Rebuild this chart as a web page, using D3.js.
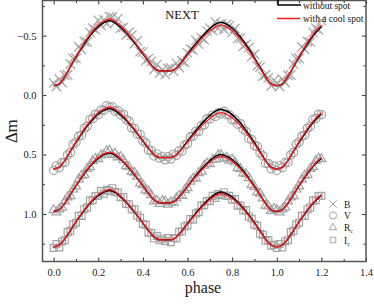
<!DOCTYPE html>
<html>
<head>
<meta charset="utf-8">
<script src="https://cdn.jsdelivr.net/npm/d3@7"></script>
<style>
  body { margin: 0; background: #fff; }
  svg { display: block; font-family: "Liberation Serif", "Times New Roman", serif; }
</style>
</head>
<body>
<svg id="chart" width="374" height="304"></svg>
<script>
// model curves, phase 0 .. 0.975 step 0.025 (folded again for 1.0 .. 1.2)
const bNoSpot  = [-0.078,-0.094,-0.155,-0.237,-0.319,-0.395,-0.466,-0.527,-0.576,-0.609,-0.625,-0.608,-0.570,-0.524,-0.469,-0.410,-0.347,-0.284,-0.229,-0.204,-0.204,-0.204,-0.228,-0.282,-0.343,-0.404,-0.461,-0.514,-0.559,-0.596,-0.612,-0.596,-0.564,-0.516,-0.457,-0.388,-0.313,-0.233,-0.153,-0.094];
const bSpot    = [-0.078,-0.095,-0.157,-0.241,-0.325,-0.404,-0.477,-0.539,-0.589,-0.623,-0.640,-0.623,-0.583,-0.535,-0.479,-0.418,-0.352,-0.287,-0.230,-0.204,-0.204,-0.204,-0.227,-0.277,-0.335,-0.393,-0.447,-0.497,-0.539,-0.574,-0.589,-0.574,-0.543,-0.497,-0.441,-0.374,-0.303,-0.226,-0.150,-0.093];
const vNoSpot  = [0.622,0.607,0.551,0.474,0.398,0.327,0.261,0.205,0.159,0.128,0.113,0.130,0.167,0.212,0.266,0.324,0.386,0.448,0.501,0.526,0.526,0.526,0.502,0.449,0.388,0.327,0.270,0.217,0.172,0.135,0.119,0.134,0.164,0.210,0.265,0.330,0.401,0.476,0.552,0.607];
const vSpot    = [0.622,0.606,0.549,0.471,0.392,0.319,0.251,0.194,0.147,0.116,0.100,0.117,0.155,0.202,0.258,0.317,0.381,0.445,0.500,0.526,0.526,0.526,0.503,0.454,0.397,0.340,0.287,0.238,0.196,0.162,0.147,0.161,0.190,0.233,0.285,0.347,0.413,0.484,0.556,0.608];
const rNoSpot  = [0.979,0.964,0.910,0.837,0.763,0.694,0.630,0.576,0.532,0.503,0.488,0.505,0.542,0.588,0.643,0.701,0.764,0.827,0.881,0.906,0.906,0.906,0.882,0.829,0.768,0.707,0.650,0.597,0.552,0.515,0.499,0.513,0.542,0.585,0.638,0.701,0.768,0.840,0.912,0.965];
const rSpot    = [0.979,0.964,0.909,0.834,0.759,0.689,0.624,0.569,0.524,0.494,0.479,0.496,0.535,0.582,0.637,0.697,0.761,0.825,0.880,0.906,0.906,0.906,0.883,0.832,0.773,0.714,0.660,0.609,0.566,0.531,0.515,0.529,0.557,0.599,0.650,0.710,0.775,0.844,0.914,0.965];
const iNoSpot  = [1.276,1.262,1.210,1.139,1.067,1.001,0.940,0.887,0.845,0.816,0.802,0.819,0.856,0.902,0.956,1.014,1.077,1.139,1.193,1.218,1.218,1.218,1.194,1.142,1.081,1.021,0.965,0.912,0.868,0.832,0.816,0.830,0.857,0.899,0.949,1.009,1.074,1.143,1.212,1.262];
const iSpot    = [1.276,1.262,1.209,1.136,1.064,0.996,0.934,0.881,0.837,0.809,0.794,0.811,0.849,0.896,0.951,1.010,1.074,1.137,1.193,1.218,1.218,1.218,1.195,1.144,1.086,1.028,0.974,0.923,0.880,0.846,0.830,0.843,0.870,0.910,0.959,1.017,1.080,1.147,1.214,1.263];

// observations, phase 0 .. 0.9875 step 0.0125
const bObs = [-0.103,-0.072,-0.135,-0.106,-0.167,-0.169,-0.261,-0.308,-0.310,-0.405,-0.384,-0.451,-0.447,-0.528,-0.564,-0.549,-0.629,-0.586,-0.633,-0.602,-0.660,-0.657,-0.608,-0.643,-0.563,-0.569,-0.505,-0.527,-0.504,-0.434,-0.458,-0.365,-0.362,-0.290,-0.307,-0.284,-0.215,-0.257,-0.184,-0.214,-0.174,-0.224,-0.229,-0.201,-0.267,-0.232,-0.287,-0.276,-0.355,-0.389,-0.378,-0.460,-0.427,-0.482,-0.467,-0.538,-0.564,-0.542,-0.614,-0.562,-0.599,-0.552,-0.594,-0.584,-0.528,-0.560,-0.477,-0.479,-0.411,-0.428,-0.399,-0.324,-0.343,-0.245,-0.236,-0.158,-0.170,-0.147,-0.078,-0.126];
const vObs = [0.634,0.596,0.610,0.568,0.567,0.504,0.483,0.414,0.396,0.346,0.337,0.279,0.263,0.205,0.198,0.161,0.165,0.126,0.128,0.090,0.104,0.099,0.135,0.130,0.167,0.161,0.206,0.220,0.276,0.282,0.329,0.331,0.385,0.403,0.463,0.467,0.512,0.495,0.530,0.516,0.544,0.520,0.538,0.497,0.507,0.469,0.472,0.420,0.409,0.351,0.344,0.304,0.305,0.257,0.250,0.199,0.200,0.169,0.180,0.149,0.159,0.136,0.165,0.166,0.208,0.206,0.245,0.241,0.289,0.306,0.365,0.374,0.425,0.431,0.488,0.510,0.574,0.576,0.620,0.597];
const rObs = [0.967,0.986,0.960,0.945,0.893,0.860,0.848,0.793,0.767,0.708,0.677,0.671,0.620,0.605,0.553,0.535,0.538,0.505,0.502,0.471,0.467,0.502,0.492,0.524,0.519,0.547,0.596,0.606,0.645,0.651,0.685,0.743,0.757,0.801,0.809,0.841,0.894,0.889,0.914,0.890,0.894,0.920,0.902,0.903,0.867,0.846,0.846,0.799,0.781,0.728,0.702,0.701,0.656,0.643,0.593,0.576,0.580,0.545,0.539,0.507,0.503,0.536,0.525,0.551,0.541,0.566,0.613,0.621,0.658,0.664,0.698,0.757,0.771,0.818,0.828,0.867,0.928,0.936,0.973,0.956];
const iObs = [1.286,1.254,1.282,1.231,1.221,1.153,1.140,1.090,1.074,1.015,1.016,0.960,0.946,0.888,0.885,0.849,0.847,0.808,0.829,0.797,0.806,0.783,0.815,0.820,0.859,0.858,0.916,0.919,0.963,0.961,1.014,1.032,1.084,1.091,1.157,1.160,1.205,1.186,1.222,1.208,1.228,1.203,1.238,1.202,1.207,1.150,1.148,1.105,1.096,1.042,1.048,0.996,0.986,0.929,0.927,0.892,0.890,0.848,0.866,0.833,0.842,0.817,0.847,0.847,0.880,0.875,0.930,0.930,0.971,0.968,1.021,1.039,1.090,1.099,1.167,1.176,1.226,1.219,1.267,1.260];

const modelPhase = d3.range(bSpot.length).map(i => i * 0.025);
const obsPhase = d3.range(bObs.length).map(i => i * 0.0125);

const xTicks = [0, 0.2, 0.4, 0.6, 0.8, 1.0, 1.2, 1.4];
const xMinor = [0.1, 0.3, 0.5, 0.7, 0.9, 1.1, 1.3];
const yTicks = [-0.5, 0.0, 0.5, 1.0];
const yMinor = [-0.75, -0.25, 0.25, 0.75, 1.25];

const bands = [
  { name: "B", sym: d3.symbolTimes, obs: bObs, noSpot: bNoSpot, spot: bSpot },
  { name: "V", sym: d3.symbolCircle, obs: vObs, noSpot: vNoSpot, spot: vSpot },
  { name: "R", sub: "c", sym: d3.symbolTriangle2, obs: rObs, noSpot: rNoSpot, spot: rSpot },
  { name: "I", sub: "c", sym: d3.symbolSquare2, obs: iObs, noSpot: iNoSpot, spot: iSpot }
];

const L = 42.5, R = 366, T = 0.5, B = 261.5;
const obsGray = "#a4a4a4";
const x = d3.scaleLinear().domain([-0.05, 1.4]).range([L, R]);
const y = d3.scaleLinear().domain([-0.8, 1.4]).range([0, B]);

const svg = d3.select("#chart");

// phase folded: repeat the start of the cycle after 1.0
function fold(phases, vals, upto) {
  const pts = phases.map((p, i) => [p, vals[i]]);
  phases.forEach((p, i) => { if (p + 1 <= upto + 1e-9) pts.push([p + 1, vals[i]]); });
  return pts;
}

const plot = svg.append("g");

bands.forEach(b => {
  const sym = d3.symbol().type(b.sym).size(b.sym === d3.symbolCircle ? 55 : 60);
  plot.append("g").selectAll("path")
    .data(fold(obsPhase, b.obs, 1.2))
    .join("path")
    .attr("transform", d => `translate(${x(d[0])},${y(d[1])})`)
    .attr("d", sym)
    .attr("fill", "none")
    .attr("stroke", obsGray)
    .attr("stroke-width", 1.2);
});

const line = d3.line().x(d => x(d[0])).y(d => y(d[1])).curve(d3.curveMonotoneX);
bands.forEach(b => {
  plot.append("path").datum(fold(modelPhase, b.noSpot, 1.2))
    .attr("d", line).attr("fill", "none").attr("stroke", "#000").attr("stroke-width", 1.5);
});
bands.forEach(b => {
  plot.append("path").datum(fold(modelPhase, b.spot, 1.2))
    .attr("d", line).attr("fill", "none").attr("stroke", "#ff1a1a").attr("stroke-width", 1.3);
});

// axes, ticks pointing inward
function styleAxis(g) {
  g.select(".domain").remove();
  g.selectAll("line").attr("stroke", "#333").attr("stroke-width", 1);
  g.selectAll("text").attr("fill", "#222").attr("font-size", "10.5px")
    .attr("font-family", "'Liberation Serif', 'Times New Roman', serif");
}
svg.append("g").attr("transform", `translate(0,${B})`)
  .call(d3.axisBottom(x).tickValues(xTicks).tickSize(-4).tickPadding(7).tickFormat(d3.format(".1f"))).call(styleAxis);
svg.append("g").attr("transform", `translate(0,${B})`)
  .call(d3.axisBottom(x).tickValues(xMinor).tickSize(-2.5).tickFormat("")).call(styleAxis);
svg.append("g").attr("transform", `translate(0,${T})`)
  .call(d3.axisTop(x).tickValues(xTicks).tickSize(-4).tickFormat("")).call(styleAxis);
svg.append("g").attr("transform", `translate(0,${T})`)
  .call(d3.axisTop(x).tickValues(xMinor).tickSize(-2.5).tickFormat("")).call(styleAxis);
svg.append("g").attr("transform", `translate(${L},0)`)
  .call(d3.axisLeft(y).tickValues(yTicks).tickSize(-4).tickPadding(6).tickFormat(d3.format(".1f"))).call(styleAxis);
svg.append("g").attr("transform", `translate(${L},0)`)
  .call(d3.axisLeft(y).tickValues(yMinor).tickSize(-2.5).tickFormat("")).call(styleAxis);
svg.append("g").attr("transform", `translate(${R},0)`)
  .call(d3.axisRight(y).tickValues(yTicks).tickSize(-4).tickFormat("")).call(styleAxis);
svg.append("g").attr("transform", `translate(${R},0)`)
  .call(d3.axisRight(y).tickValues(yMinor).tickSize(-2.5).tickFormat("")).call(styleAxis);

svg.append("rect").attr("x", L).attr("y", T).attr("width", R - L).attr("height", B - T)
  .attr("fill", "none").attr("stroke", "#555").attr("stroke-width", 1.5);

// titles
svg.append("text").attr("x", 182).attr("y", 18.5).attr("text-anchor", "middle")
  .attr("font-size", "12.5px").attr("fill", "#111").text("NEXT");
svg.append("text").attr("x", 203).attr("y", 293).attr("text-anchor", "middle")
  .attr("font-size", "16px").attr("fill", "#222").text("phase");
svg.append("text").attr("transform", "translate(17,131) rotate(-90)").attr("text-anchor", "middle")
  .attr("font-size", "17px").attr("fill", "#222").text("\u2206m");

// model legend
const leg = svg.append("g");
leg.append("path").attr("d", "M278,0V5H301").attr("fill", "none").attr("stroke", "#000").attr("stroke-width", 1.5);
leg.append("line").attr("x1", 277).attr("x2", 300).attr("y1", 18.5).attr("y2", 18.5)
  .attr("stroke", "#ff1a1a").attr("stroke-width", 1.5);
leg.append("text").attr("x", 303).attr("y", 9).attr("font-size", "9.5px").attr("fill", "#111").text("without spot");
leg.append("text").attr("x", 303).attr("y", 21.5).attr("font-size", "9.5px").attr("fill", "#111").text("with a cool spot");

// band legend
const bandY = [204, 215.5, 227.5, 240];
bands.forEach((b, i) => {
  svg.append("path").attr("transform", `translate(333,${bandY[i]})`)
    .attr("d", d3.symbol().type(b.sym).size(40)).attr("fill", "none")
    .attr("stroke", obsGray).attr("stroke-width", 1);
  const t = svg.append("text").attr("x", 344).attr("y", bandY[i] + 3.5)
    .attr("font-size", "9.5px").attr("fill", "#222").text(b.name);
  if (b.sub) t.append("tspan").attr("font-size", "6px").attr("dy", 2).text(b.sub);
});
</script>
</body>
</html>
